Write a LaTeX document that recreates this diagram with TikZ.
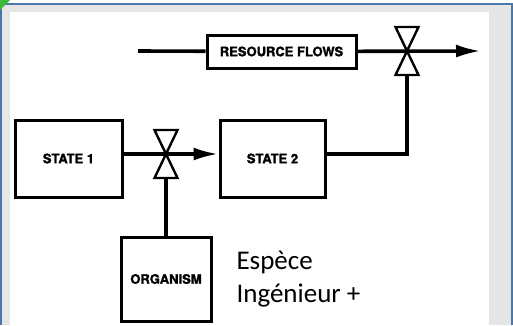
\documentclass[tikz,border=0pt]{standalone}
\usepackage{fontspec}
\setmainfont{Carlito}
\newfontfamily\blockfont[BoldFeatures={FakeBold=1.6}]{TeX Gyre Heros}
\usepackage{tikz}
\usetikzlibrary{arrows.meta, positioning, calc}
\definecolor{frameblue}{HTML}{4A76A8}
\definecolor{panelgray}{HTML}{E6E6E6}
\definecolor{cornergreen}{HTML}{3DBB3D}

\begin{document}
\begin{tikzpicture}[
  x=1pt, y=-1pt,
  block/.style={rectangle, draw, line width=3pt, fill=white,
                font=\blockfont\bfseries\fontsize{13}{15}\selectfont, align=center},
  flow/.style={line width=3.6pt},
  arrow/.style={-{Latex[length=25pt, width=13pt]}, line width=3.6pt},
  pics/valve/.style={code={
    \draw[line width=2.4pt, fill=white, line join=miter]
      (0,0) -- (-11.5,-24) -- (11.5,-24) -- cycle
      (0,0) -- (-11.5,24) -- (11.5,24) -- cycle;
  }}
]
  \useasboundingbox (0,0) rectangle (513,325);
  % frame round the slide
  \fill[panelgray] (1,4) rectangle (512,325);
  \draw[frameblue, line width=2pt] (1,325) -- (1,4) -- (512,4) -- (512,325);
  \fill[white] (10,12) rectangle (489,325);
  \fill[cornergreen] (0,0) -- (10,0) -- (0,10) -- cycle;

  \node[block, minimum width=149pt, minimum height=33pt] (flows) at (281.5,51.5) {RESOURCE FLOWS};
  \node[block, minimum width=107pt, minimum height=77pt] (state1) at (68.5,158.5) {STATE 1};
  \node[block, minimum width=105pt, minimum height=77pt, right=95pt of state1] (state2) {STATE 2};
  \node[block, minimum width=90pt, minimum height=84pt] (organism) at (166,279) {ORGANISM};
  \node[anchor=north west, align=left, font=\fontsize{27}{33}\selectfont] (label) at (233,248) {Espèce\\Ingénieur +};

  \coordinate (src) at (138,51);
  \coordinate (sink) at (481,51);
  \coordinate (valveA) at (407,51);
  \coordinate (valveB) at (166,154);
  \coordinate (valveAfoot) at (407,75);
  \coordinate (valveBfoot) at (166,178);

  \draw[flow] (src) -- (flows);
  \draw[arrow] (flows) -- (sink);
  \draw[arrow] (state1.east |- valveB) -- (state2.west |- valveB);
  \draw[flow] (state2.east |- valveB) -| (valveAfoot);
  \draw[flow] (organism.north) -- (valveBfoot);

  \pic at (valveA) {valve};
  \pic at (valveB) {valve};
\end{tikzpicture}
\end{document}
